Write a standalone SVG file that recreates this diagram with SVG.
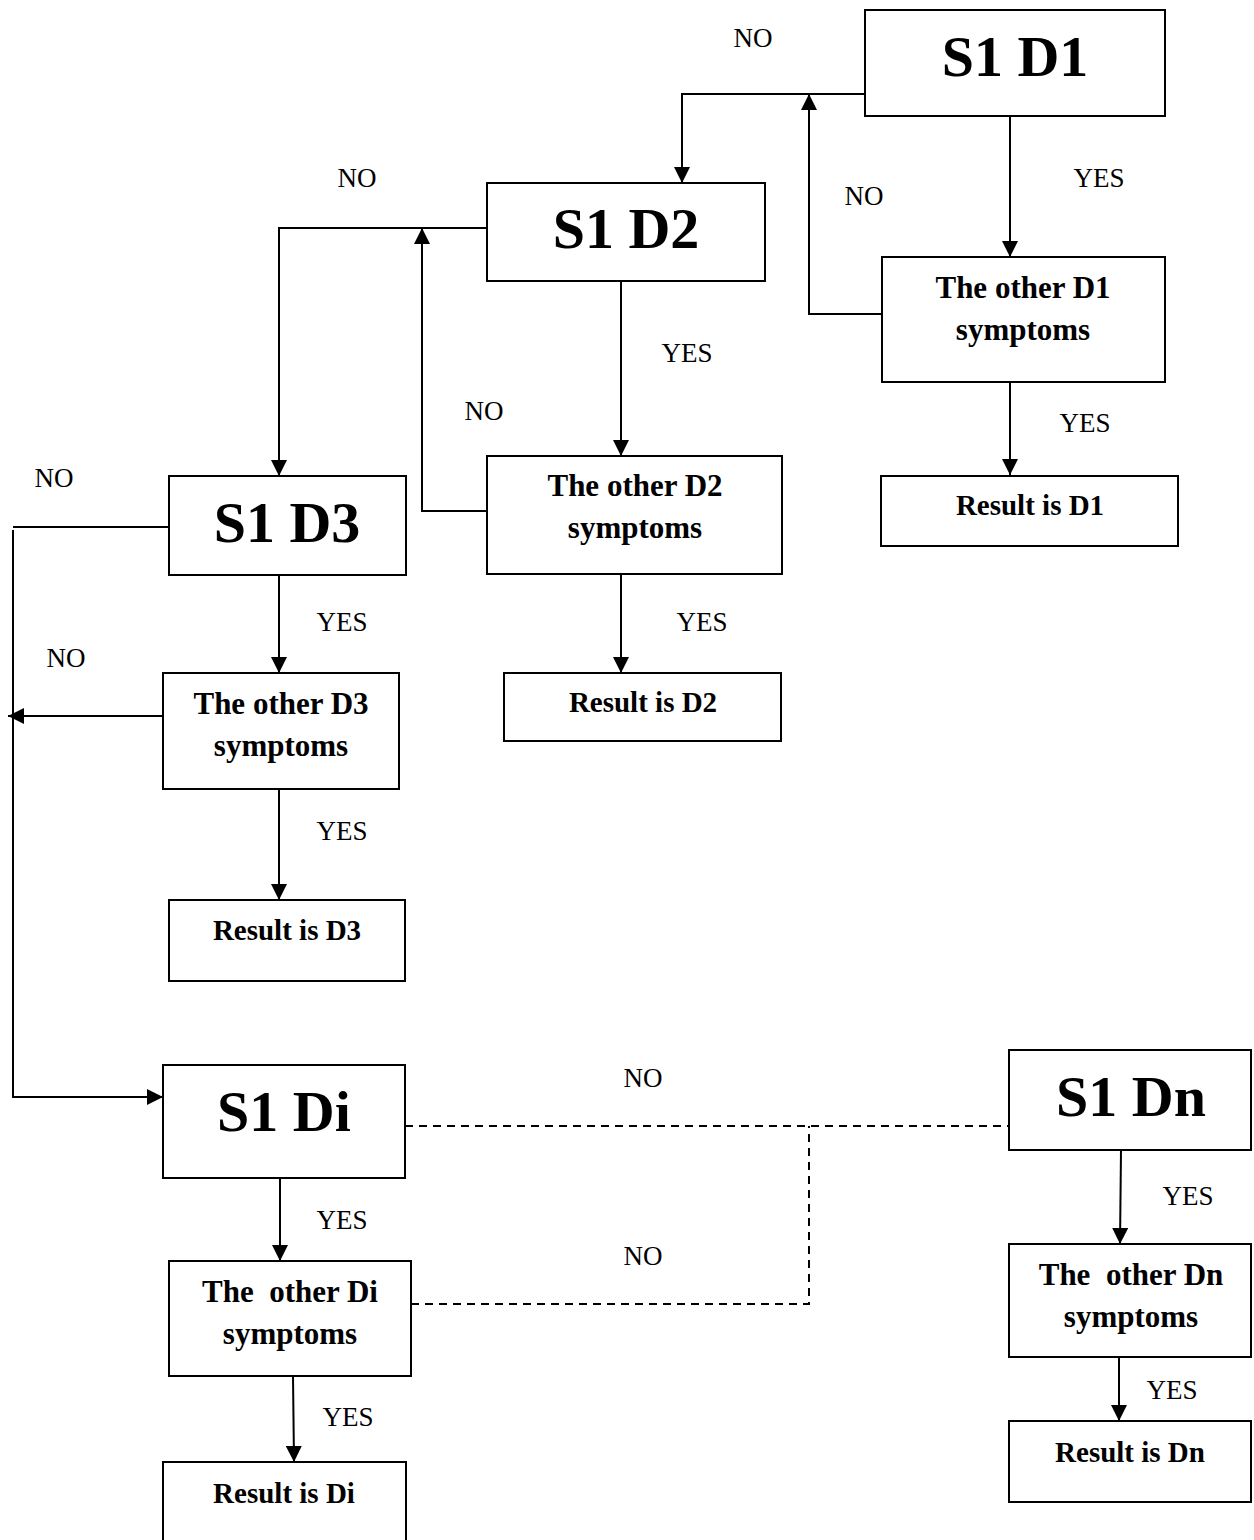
<svg xmlns="http://www.w3.org/2000/svg" width="1254" height="1540" viewBox="0 0 1254 1540">
<style>
.box{fill:#fff;stroke:#000;stroke-width:2}
.big{font-family:"Liberation Serif",serif;font-weight:bold;font-size:58px;text-anchor:middle}
.mid{font-family:"Liberation Serif",serif;font-weight:bold;font-size:31px;text-anchor:middle}
.res{font-family:"Liberation Serif",serif;font-weight:bold;font-size:29px;text-anchor:middle}
.lbl{font-family:"Liberation Serif",serif;font-size:27px;text-anchor:middle}
.ln{fill:none;stroke:#000;stroke-width:2}
.dash{fill:none;stroke:#000;stroke-width:2;stroke-dasharray:8,6}
</style>
<defs>
<marker id="ah" viewBox="0 0 16 16" refX="16" refY="8" markerWidth="16" markerHeight="16" markerUnits="userSpaceOnUse" orient="auto">
<path d="M0,0 L16,8 L0,16 Z" fill="#000"/>
</marker>
</defs>
<rect width="1254" height="1540" fill="#fff"/>
<g id="connectors">
<path class="ln" d="M865,94 H682 V183" marker-end="url(#ah)"/>
<path class="ln" d="M882,314 H809 V94" marker-end="url(#ah)"/>
<path class="ln" d="M1010,116 V257" marker-end="url(#ah)"/>
<path class="ln" d="M1010,382 V475" marker-end="url(#ah)"/>
<path class="ln" d="M487,228 H279 V476" marker-end="url(#ah)"/>
<path class="ln" d="M487,511 H422 V228" marker-end="url(#ah)"/>
<path class="ln" d="M621,281 V456" marker-end="url(#ah)"/>
<path class="ln" d="M621,574 V673" marker-end="url(#ah)"/>
<path class="ln" d="M169,527 H13"/>
<path class="ln" d="M13,530 V1097 H163" marker-end="url(#ah)"/>
<path class="ln" d="M163,716 H8" marker-end="url(#ah)"/>
<path class="ln" d="M279,575 V673" marker-end="url(#ah)"/>
<path class="ln" d="M279,789 V900" marker-end="url(#ah)"/>
<path class="ln" d="M280,1178 V1261" marker-end="url(#ah)"/>
<path class="ln" d="M293,1376 L294,1462" marker-end="url(#ah)"/>
<path class="dash" d="M405,1126 H1009"/>
<path class="dash" d="M411,1304 H809 V1126"/>
<path class="ln" d="M1121,1150 L1120,1244" marker-end="url(#ah)"/>
<path class="ln" d="M1119,1357 V1421" marker-end="url(#ah)"/>
</g>
<g id="labels">
<text class="lbl" x="753" y="47">NO</text>
<text class="lbl" x="1099" y="187">YES</text>
<text class="lbl" x="864" y="205">NO</text>
<text class="lbl" x="1085" y="432">YES</text>
<text class="lbl" x="357" y="187">NO</text>
<text class="lbl" x="687" y="362">YES</text>
<text class="lbl" x="484" y="420">NO</text>
<text class="lbl" x="702" y="631">YES</text>
<text class="lbl" x="54" y="487">NO</text>
<text class="lbl" x="342" y="631">YES</text>
<text class="lbl" x="66" y="667">NO</text>
<text class="lbl" x="342" y="840">YES</text>
<text class="lbl" x="643" y="1087">NO</text>
<text class="lbl" x="643" y="1265">NO</text>
<text class="lbl" x="342" y="1229">YES</text>
<text class="lbl" x="348" y="1426">YES</text>
<text class="lbl" x="1188" y="1205">YES</text>
<text class="lbl" x="1172" y="1399">YES</text>
</g>
<g id="s1d1"><rect class="box" x="865" y="10" width="300" height="106"/><text class="big" x="1015" y="76">S1 D1</text></g>
<g id="other-d1"><rect class="box" x="882" y="257" width="283" height="125"/><text class="mid" x="1023" y="298">The other D1</text><text class="mid" x="1023" y="340">symptoms</text></g>
<g id="result-d1"><rect class="box" x="881" y="476" width="297" height="70"/><text class="res" x="1030" y="515">Result is D1</text></g>
<g id="s1d2"><rect class="box" x="487" y="183" width="278" height="98"/><text class="big" x="626" y="248">S1 D2</text></g>
<g id="other-d2"><rect class="box" x="487" y="456" width="295" height="118"/><text class="mid" x="635" y="496">The other D2</text><text class="mid" x="635" y="538">symptoms</text></g>
<g id="result-d2"><rect class="box" x="504" y="673" width="277" height="68"/><text class="res" x="643" y="712">Result is D2</text></g>
<g id="s1d3"><rect class="box" x="169" y="476" width="237" height="99"/><text class="big" x="287" y="542">S1 D3</text></g>
<g id="other-d3"><rect class="box" x="163" y="673" width="236" height="116"/><text class="mid" x="281" y="714">The other D3</text><text class="mid" x="281" y="756">symptoms</text></g>
<g id="result-d3"><rect class="box" x="169" y="900" width="236" height="81"/><text class="res" x="287" y="940">Result is D3</text></g>
<g id="s1di"><rect class="box" x="163" y="1065" width="242" height="113"/><text class="big" x="284" y="1131">S1 Di</text></g>
<g id="other-di"><rect class="box" x="169" y="1261" width="242" height="115"/><text class="mid" x="290" y="1302" xml:space="preserve">The  other Di</text><text class="mid" x="290" y="1344">symptoms</text></g>
<g id="result-di"><rect class="box" x="163" y="1462" width="243" height="90"/><text class="res" x="284" y="1503">Result is Di</text></g>
<g id="s1dn"><rect class="box" x="1009" y="1050" width="242" height="100"/><text class="big" x="1131" y="1116">S1 Dn</text></g>
<g id="other-dn"><rect class="box" x="1009" y="1244" width="242" height="113"/><text class="mid" x="1131" y="1285" xml:space="preserve">The  other Dn</text><text class="mid" x="1131" y="1327">symptoms</text></g>
<g id="result-dn"><rect class="box" x="1009" y="1421" width="242" height="81"/><text class="res" x="1130" y="1462">Result is Dn</text></g>
</svg>
